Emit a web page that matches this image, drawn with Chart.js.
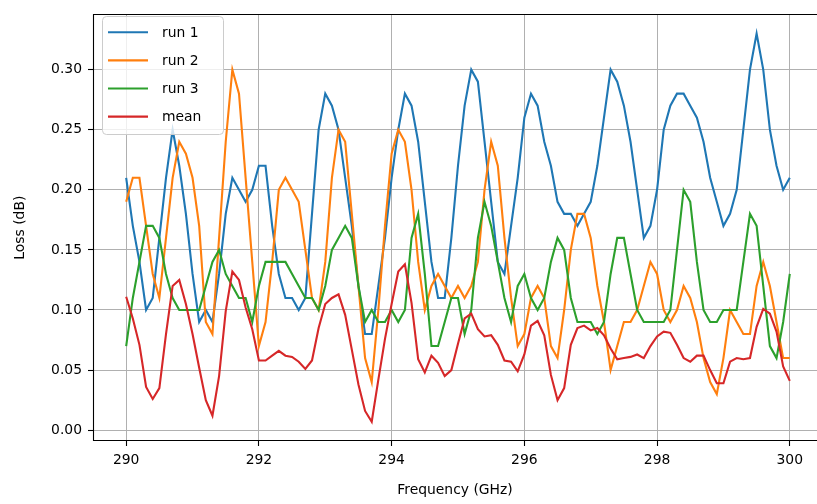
<!DOCTYPE html>
<html><head><meta charset="utf-8">
<script src="https://cdn.jsdelivr.net/npm/chart.js@4.4.1/dist/chart.umd.min.js"></script>
<style>html,body{margin:0;padding:0;overflow:hidden;background:#fff;width:817px;height:504px}canvas{display:block}</style>
</head><body>
<canvas id="c" width="817" height="504" style="width:817px;height:504px"></canvas>
<script>
const freq = [290.0,290.1,290.2,290.3,290.4,290.5,290.6,290.7,290.8,290.9,
291.0,291.1,291.2,291.3,291.4,291.5,291.6,291.7,291.8,291.9,
292.0,292.1,292.2,292.3,292.4,292.5,292.6,292.7,292.8,292.9,
293.0,293.1,293.2,293.3,293.4,293.5,293.6,293.7,293.8,293.9,
294.0,294.1,294.2,294.3,294.4,294.5,294.6,294.7,294.8,294.9,
295.0,295.1,295.2,295.3,295.4,295.5,295.6,295.7,295.8,295.9,
296.0,296.1,296.2,296.3,296.4,296.5,296.6,296.7,296.8,296.9,
297.0,297.1,297.2,297.3,297.4,297.5,297.6,297.7,297.8,297.9,
298.0,298.1,298.2,298.3,298.4,298.5,298.6,298.7,298.8,298.9,
299.0,299.1,299.2,299.3,299.4,299.5,299.6,299.7,299.8,299.9,
300.0];

const run1 = [0.21,0.17,0.14,0.10,0.11,0.16,0.21,0.25,0.22,0.18,
0.13,0.09,0.10,0.09,0.13,0.18,0.21,0.20,0.19,0.20,
0.22,0.22,0.17,0.13,0.11,0.11,0.10,0.11,0.18,0.25,
0.28,0.27,0.25,0.21,0.17,0.12,0.08,0.08,0.12,0.16,
0.21,0.25,0.28,0.27,0.24,0.19,0.14,0.11,0.11,0.16,
0.22,0.27,0.30,0.29,0.24,0.19,0.14,0.13,0.17,0.21,
0.26,0.28,0.27,0.24,0.22,0.19,0.18,0.18,0.17,0.18,
0.19,0.22,0.26,0.30,0.29,0.27,0.24,0.20,0.16,0.17,
0.20,0.25,0.27,0.28,0.28,0.27,0.26,0.24,0.21,0.19,
0.17,0.18,0.20,0.25,0.30,0.33,0.30,0.25,0.22,0.20,
0.21];

const run2 = [0.19,0.21,0.21,0.17,0.13,0.11,0.16,0.21,0.24,0.23,
0.21,0.17,0.09,0.08,0.16,0.24,0.30,0.28,0.21,0.14,
0.07,0.09,0.14,0.20,0.21,0.20,0.19,0.15,0.11,0.10,
0.14,0.21,0.25,0.24,0.18,0.12,0.06,0.04,0.10,0.17,
0.23,0.25,0.24,0.20,0.14,0.10,0.12,0.13,0.12,0.11,
0.12,0.11,0.12,0.14,0.20,0.24,0.22,0.16,0.11,0.07,
0.08,0.11,0.12,0.11,0.07,0.06,0.10,0.15,0.18,0.18,
0.16,0.12,0.09,0.05,0.07,0.09,0.09,0.10,0.12,0.14,
0.13,0.10,0.09,0.10,0.12,0.11,0.09,0.06,0.04,0.03,
0.06,0.10,0.09,0.08,0.08,0.12,0.14,0.12,0.09,0.06,
0.06];

const run3 = [0.07,0.11,0.14,0.17,0.17,0.16,0.13,0.11,0.10,0.10,
0.10,0.10,0.12,0.14,0.15,0.13,0.12,0.11,0.11,0.09,
0.12,0.14,0.14,0.14,0.14,0.13,0.12,0.11,0.11,0.10,
0.12,0.15,0.16,0.17,0.16,0.12,0.09,0.10,0.09,0.09,
0.10,0.09,0.10,0.16,0.18,0.13,0.07,0.07,0.09,0.11,
0.11,0.08,0.10,0.16,0.19,0.17,0.14,0.11,0.09,0.12,
0.13,0.11,0.10,0.11,0.14,0.16,0.15,0.11,0.09,0.09,
0.09,0.08,0.09,0.13,0.16,0.16,0.13,0.10,0.09,0.09,
0.09,0.09,0.10,0.15,0.20,0.19,0.14,0.10,0.09,0.09,
0.10,0.10,0.10,0.14,0.18,0.17,0.12,0.07,0.06,0.09,
0.13];

const meanLoss = [0.111,0.093,0.071,0.036,0.026,0.035,0.080,0.120,0.125,0.105,
0.080,0.052,0.025,0.012,0.045,0.099,0.132,0.125,0.102,0.084,
0.058,0.058,0.062,0.066,0.062,0.061,0.057,0.051,0.058,0.085,
0.105,0.110,0.113,0.096,0.067,0.038,0.016,0.007,0.042,0.076,
0.105,0.132,0.138,0.106,0.059,0.048,0.062,0.056,0.045,0.050,
0.072,0.093,0.097,0.084,0.078,0.079,0.071,0.058,0.057,0.049,
0.063,0.087,0.091,0.079,0.046,0.025,0.035,0.071,0.085,0.087,
0.083,0.085,0.079,0.068,0.059,0.060,0.061,0.063,0.060,0.070,
0.078,0.082,0.081,0.071,0.060,0.057,0.062,0.062,0.050,0.039,
0.039,0.057,0.060,0.059,0.060,0.086,0.101,0.097,0.082,0.053,
0.041];

const xTicks = [290,292,294,296,298,300];
const xTickLabels = ['290','292','294','296','298','300'];
const yTicks = [0,0.05,0.10,0.15,0.20,0.25,0.30];
const yTickLabels = ['0.00','0.05','0.10','0.15','0.20','0.25','0.30'];
const seriesNames = ['run 1','run 2','run 3','mean'];
const seriesColors = ['#1f77b4','#ff7f0e','#2ca02c','#d62728'];
const seriesValues = [run1, run2, run3, meanLoss];

const FONT = 'DejaVu Sans';
Chart.defaults.font.family = FONT;
Chart.defaults.font.size = 13.9;
Chart.defaults.color = '#000';

const mplPlugin = {
  id: 'mplDecor',
  afterDatasetsDraw(chart) {
    const ctx = chart.ctx;
    const a = chart.chartArea;
    ctx.save();
    // spines (right spine falls just outside the picture, as in the reference)
    ctx.strokeStyle = '#000';
    ctx.lineWidth = 1.1;
    const L = Math.round(a.left) + 0.5, T = Math.round(a.top) + 0.5, B = Math.round(a.bottom) - 0.5;
    ctx.beginPath();
    ctx.moveTo(chart.width + 2, T); ctx.lineTo(L, T); ctx.lineTo(L, B); ctx.lineTo(chart.width + 2, B);
    ctx.stroke();
    // legend
    const x = 102, y = 16, w = 121, h = 118;
    ctx.beginPath();
    ctx.roundRect(x + 0.5, y + 0.5, w, h, 4);
    ctx.fillStyle = 'rgba(255,255,255,0.8)';
    ctx.fill();
    ctx.strokeStyle = '#cccccc';
    ctx.lineWidth = 1;
    ctx.stroke();
    chart.data.datasets.forEach((ds, k) => {
      const yy = 32.3 + 28.1 * k;
      ctx.beginPath();
      ctx.moveTo(108, yy);
      ctx.lineTo(148, yy);
      ctx.strokeStyle = ds.borderColor;
      ctx.lineWidth = 2.1;
      ctx.stroke();
      ctx.fillStyle = '#000';
      ctx.font = '13.9px "' + FONT + '"';
      ctx.textBaseline = 'middle';
      ctx.textAlign = 'left';
      ctx.fillText(ds.label, 162, yy + 1);
    });
    ctx.restore();
  }
};

const datasets = seriesNames.map((name, k) => ({
  label: name,
  data: freq.map((f, i) => ({x: f, y: seriesValues[k][i]})),
  borderColor: seriesColors[k],
  backgroundColor: seriesColors[k],
  borderWidth: 2.1,
  pointRadius: 0,
  tension: 0,
  fill: false,
  order: 3 - k
}));

const gridOpts = {color: '#b0b0b0', lineWidth: 1, tickLength: 5, tickColor: '#000', tickWidth: 1.1, drawTicks: true};

new Chart(document.getElementById('c'), {
  type: 'line',
  data: {datasets},
  plugins: [mplPlugin],
  options: {
    responsive: false,
    animation: false,
    events: [],
    layout: {padding: {top: 7, right: 0, bottom: 0, left: 0}},
    plugins: {legend: {display: false}, tooltip: {enabled: false}, title: {display: false}},
    scales: {
      x: {
        type: 'linear', min: 289.5, max: 300.41,
        afterBuildTicks: s => { s.ticks = xTicks.map(v => ({value: v})); },
        afterFit: s => { s.height = 63; },
        ticks: {autoSkip: false, maxRotation: 0, padding: 6, color: '#000',
                callback: (v, i) => xTickLabels[i]},
        grid: gridOpts,
        border: {display: false},
        title: {display: true, text: 'Frequency (GHz)', color: '#000', padding: {top: 0, bottom: 5}}
      },
      y: {
        type: 'linear', min: -0.009, max: 0.346,
        afterBuildTicks: s => { s.ticks = yTicks.map(v => ({value: v})); },
        afterFit: s => { s.width = 93; },
        ticks: {autoSkip: false, padding: 6, color: '#000',
                callback: (v, i) => yTickLabels[i]},
        grid: gridOpts,
        border: {display: false},
        title: {display: true, text: 'Loss (dB)', color: '#000', padding: {top: 12, bottom: 0}}
      }
    }
  }
});
</script>
</body></html>
